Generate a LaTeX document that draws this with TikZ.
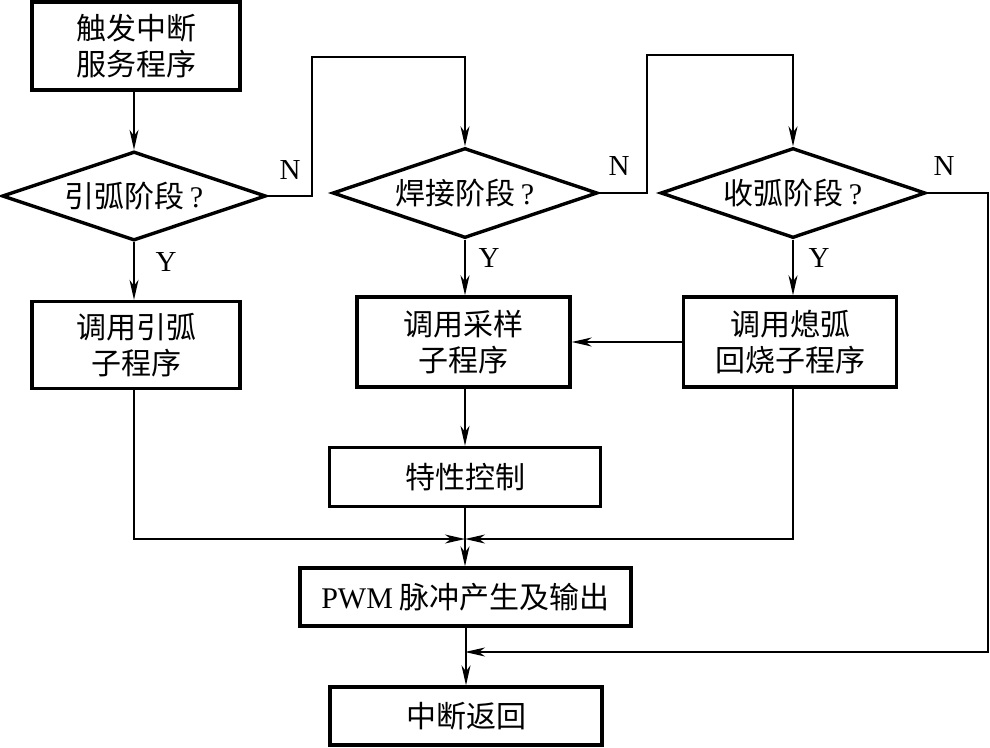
\documentclass[tikz,border=0pt]{standalone}
\usepackage{fontspec}
\setmainfont{Liberation Serif}
\newfontfamily\cjk{Noto Sans CJK SC}
\usetikzlibrary{shapes.geometric,arrows.meta}
\begin{document}
\begin{tikzpicture}[x=1pt,y=-1pt,
  every node/.style={font=\fontsize{30pt}{36pt}\selectfont\cjk},
  boxnode/.style={draw,line width=3.4pt,rectangle,inner sep=0pt,align=center},
  decnode/.style={draw,line width=3.4pt,diamond,aspect=2.95,inner sep=0pt},
  conn/.style={line width=1.5pt},
  arr/.style={conn,-{Stealth[length=20pt,width=9pt,inset=6pt]}},
  lab/.style={font=\fontsize{29pt}{30pt}\selectfont\rmfamily,inner sep=0pt}
]
\useasboundingbox (0,0) rectangle (990,747);
% boxes
\node[boxnode,minimum width=208pt,minimum height=88pt] (b1) at (136,46) {触发中断\\服务程序};
\node[decnode,minimum width=264pt,minimum height=89pt] (d1) at (134,196) {引弧阶段\,{\rmfamily ?}};
\node[decnode,minimum width=265pt,minimum height=90pt] (d2) at (465,193) {焊接阶段\,{\rmfamily ?}};
\node[decnode,minimum width=265pt,minimum height=90pt] (d3) at (793,193) {收弧阶段\,{\rmfamily ?}};
\node[boxnode,minimum width=208pt,minimum height=87pt] (c1) at (136,345) {调用引弧\\子程序};
\node[boxnode,minimum width=213pt,minimum height=90pt] (c2) at (463.5,342) {调用采样\\子程序};
\node[boxnode,minimum width=213pt,minimum height=90pt] (c3) at (790,342) {调用熄弧\\回烧子程序};
\node[boxnode,minimum width=271pt,minimum height=59pt] (tc) at (465,477) {特性控制};
\node[boxnode,minimum width=331pt,minimum height=58pt] (pwm) at (465.5,597) {{\rmfamily PWM} 脉冲产生及输出};
\node[boxnode,minimum width=272pt,minimum height=58pt] (ret) at (466,716) {中断返回};
% helper coordinates
\coordinate (n1a) at (312,196);
\coordinate (n1b) at (312,57);
\coordinate (n1c) at (465,57);
\coordinate (n2a) at (647,193);
\coordinate (n2b) at (647,55);
\coordinate (n2c) at (793,55);
\coordinate (n3a) at (988,193);
\coordinate (n3b) at (988,652);
\coordinate (j2) at (465,652);
\coordinate (l1) at (134,539);
\coordinate (r1) at (793,539);
\coordinate (j1) at (465,539);
% connectors
\draw[arr] (b1.south -| d1.north) -- (d1.north);
\draw[arr] (d1.south) -- (d1.south |- c1.north);
\draw[arr] (d2.south) -- (d2.south |- c2.north);
\draw[arr] (d3.south) -- (d3.south |- c3.north);
\draw[arr] (d1.east) -- (n1a) -- (n1b) -- (n1c) -- (d2.north);
\draw[arr] (d2.east) -- (n2a) -- (n2b) -- (n2c) -- (d3.north);
\draw[arr] (d3.east) -- (n3a) -- (n3b) -- (j2);
\draw[arr] (c3.west) -- (c2.east |- c3.west);
\draw[arr] (c2.south -| tc.north) -- (tc.north);
\draw[arr] (tc.south) -- (tc.south |- pwm.north);
\draw[arr] (l1 |- c1.south) -- (l1) -- (j1);
\draw[arr] (r1 |- c3.south) -- (r1) -- (j1);
\draw[arr] (pwm.south -| ret.north) -- (ret.north);
% labels
\node[lab] (ly1) at (166,262) {Y};
\node[lab] (ly2) at (489,258) {Y};
\node[lab] (ly3) at (819,258) {Y};
\node[lab] (ln1) at (290,170) {N};
\node[lab] (ln2) at (619,166) {N};
\node[lab] (ln3) at (944,166) {N};
\end{tikzpicture}
\end{document}
